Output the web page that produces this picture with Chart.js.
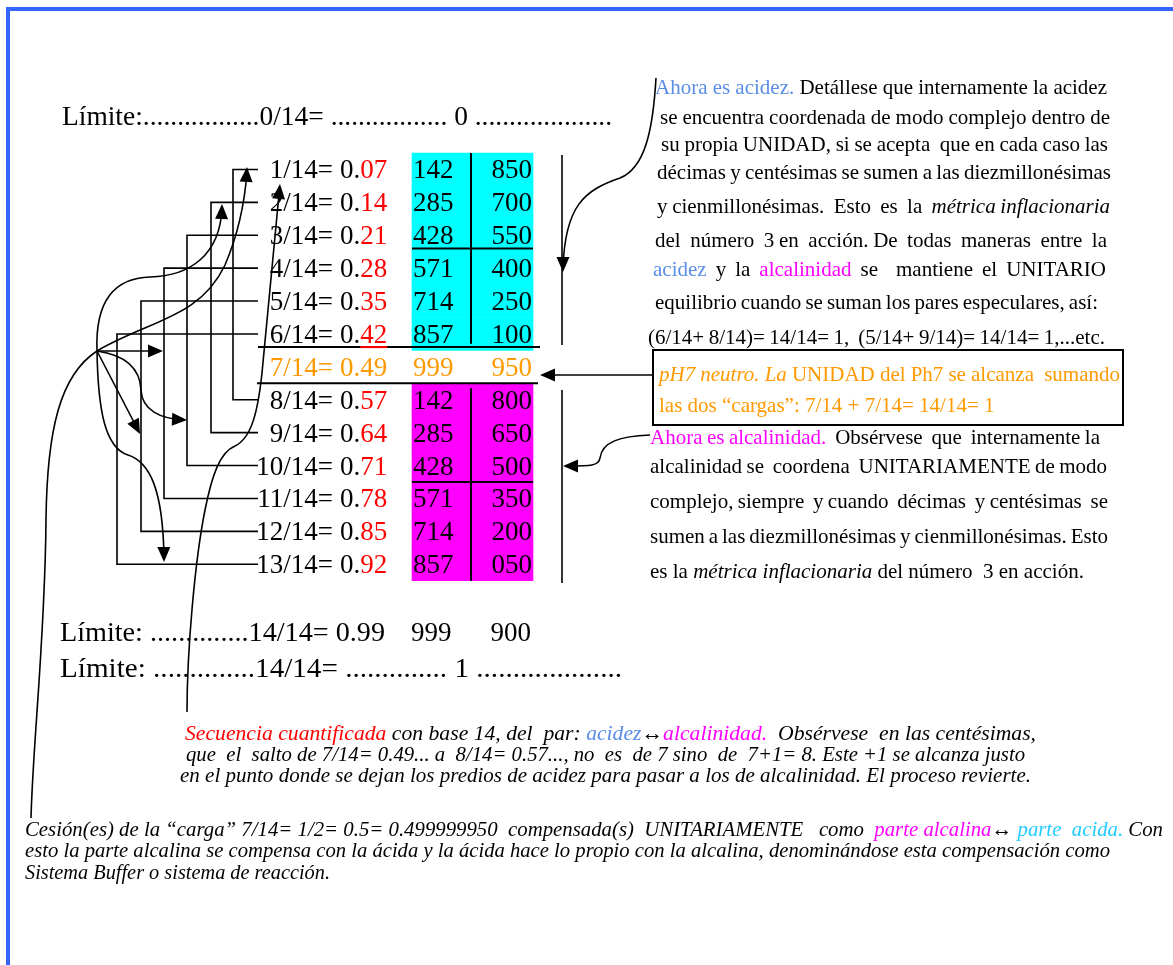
<!DOCTYPE html>
<html><head><meta charset="utf-8">
<script src="https://cdn.jsdelivr.net/npm/chart.js@4/dist/chart.umd.min.js"></script>
<style>html,body{margin:0;padding:0;background:#fff;overflow:hidden}canvas{display:block}</style>
</head><body>
<canvas id="c" width="1173" height="965"></canvas>
<script>
// ---------------- data ----------------
const fractions  = ['1/14','2/14','3/14','4/14','5/14','6/14','7/14','8/14','9/14','10/14','11/14','12/14','13/14'];
const hundredths = ['07','14','21','28','35','42','49','57','64','71','78','85','92'];
const groupA     = ['142','285','428','571','714','857','999','142','285','428','571','714','857'];
const groupB     = ['850','700','550','400','250','100','950','800','650','500','350','200','050'];
const zones      = ['acidez','acidez','acidez','acidez','acidez','acidez','neutro',
                    'alcalinidad','alcalinidad','alcalinidad','alcalinidad','alcalinidad','alcalinidad'];
const mirrorPairs = [[1,8],[2,9],[3,10],[4,11],[5,12],[6,13]];
const limitTop    = ['0/14', '0'];
const limitLow    = ['14/14', '0.99', '999', '900'];
const limitEnd    = ['14/14', '1'];

// ---------------- style / layout ----------------
const W = 1173, H = 965;
const SERIF = "'Liberation Serif','Times New Roman',serif";
const COL = {acidez:'#00ffff', alcalinidad:'#ff00ff', red:'#ff0000', orange:'#ff9900',
             blue:'#5b8ee6', mag:'#ff00ff', cyanTxt:'#22ccff', frame:'#3366ff'};
const CELL = {left:412, right:533, mid:471};

const diagram = {
  id:'diagram',
  beforeDraw(chart){
    const c = chart.ctx; c.save(); c.fillStyle = '#fff'; c.fillRect(0,0,W,H); c.restore();
  },
  afterDatasetsDraw(chart){
    const c = chart.ctx;
    const sx = chart.scales.x, sy = chart.scales.y, sp = chart.scales.yp;
    const X = v => sx.getPixelForValue(v);
    const P = v => sp.getPixelForValue(v);
    const R = v => sy.getPixelForValue(v);

    function rich(segs, x0, x1, base, size, mode){
      const font = s => (s.i ? 'italic ' : '') + size + 'px ' + SERIF;
      const words = []; let cur = null, pending = 0;
      for (const s of segs){
        for (const p of s.t.split(/( +)/)){
          if (!p) continue;
          if (/^ +$/.test(p)){ pending += p.length; cur = null; continue; }
          if (!cur){ cur = {pieces:[], gap: words.length ? pending : 0}; words.push(cur); pending = 0; }
          cur.pieces.push({t:p, s});
        }
      }
      c.font = size + 'px ' + SERIF;
      const spW = c.measureText(' ').width;
      let ww = 0, units = 0;
      for (const w of words){
        w.w = 0;
        for (const pc of w.pieces){ c.font = font(pc.s); pc.w = c.measureText(pc.t).width; w.w += pc.w; }
        ww += w.w; units += w.gap;
      }
      const natural = ww + units*spW;
      let gap = spW, scale = 1;
      const x0p = X(x0), x1p = x1 != null ? X(x1) : null;
      if (mode === 'justify'){
        gap = units ? (x1p - x0p - ww)/units : spW;
        if (gap < spW*0.45){ gap = spW; scale = (x1p - x0p)/natural; }
      } else if (mode === 'fit'){ scale = (x1p - x0p)/natural; }
      c.save(); c.translate(x0p, P(base)); c.scale(scale,1);
      c.textBaseline = 'alphabetic'; c.textAlign = 'left';
      let x = 0;
      for (const w of words){
        x += w.gap*gap;
        for (const pc of w.pieces){ c.font = font(pc.s); c.fillStyle = pc.s.c || '#000'; c.fillText(pc.t, x, 0); x += pc.w; }
      }
      c.restore();
    }
    function path(cmds){
      c.beginPath();
      for (const k of cmds){
        if (k[0]==='M') c.moveTo(X(k[1]),P(k[2]));
        else if (k[0]==='L') c.lineTo(X(k[1]),P(k[2]));
        else c.bezierCurveTo(X(k[1]),P(k[2]),X(k[3]),P(k[4]),X(k[5]),P(k[6]));
      }
      c.stroke();
    }
    function head(tx, ty, fx, fy){
      const a = Math.atan2(P(ty)-P(fy), X(tx)-X(fx));
      const L = 15, hw = 6.5, x = X(tx), y = P(ty);
      c.beginPath();
      c.moveTo(x,y);
      c.lineTo(x - L*Math.cos(a) + hw*Math.sin(a), y - L*Math.sin(a) - hw*Math.cos(a));
      c.lineTo(x - L*Math.cos(a) - hw*Math.sin(a), y - L*Math.sin(a) + hw*Math.cos(a));
      c.closePath(); c.fill();
    }

    // ---- cell dividers ----
    c.save();
    c.strokeStyle = '#000'; c.lineWidth = 2;
    c.beginPath();
    c.moveTo(X(CELL.mid), R(0.5)); c.lineTo(X(CELL.mid), R(6.3));
    c.moveTo(X(CELL.left), R(3.4)); c.lineTo(X(CELL.right), R(3.4));
    c.moveTo(X(CELL.mid), R(7.65)); c.lineTo(X(CELL.mid), R(13.5));
    c.moveTo(X(CELL.left), R(10.5)); c.lineTo(X(CELL.right), R(10.5));
    c.stroke();

    // ---- neutral row borders ----
    c.lineWidth = 2;
    c.beginPath();
    c.moveTo(X(258), R(6.4)); c.lineTo(X(540), R(6.4));
    c.moveTo(X(257), R(7.5)); c.lineTo(X(538), R(7.5));
    c.stroke();

    // ---- rows text ----
    const fs = 27;
    c.textBaseline = 'alphabetic';
    fractions.forEach((f, i) => {
      const yb = R(i+1) + 9;
      const neutral = zones[i] === 'neutro';
      c.font = fs + 'px ' + SERIF;
      c.fillStyle = neutral ? COL.orange : '#000';
      c.textAlign = 'right'; c.fillText(f + '=', X(333), yb);
      c.textAlign = 'left';
      c.fillText('0.', X(340), yb);
      const wx = X(340) + c.measureText('0.').width;
      c.fillStyle = neutral ? COL.orange : COL.red;
      c.fillText(hundredths[i], wx, yb);
      if (i === 5){
        const w = c.measureText(hundredths[i]).width;
        c.save(); c.strokeStyle = COL.red; c.lineWidth = 2;
        c.beginPath(); c.moveTo(wx, R(6.4)); c.lineTo(wx + w, R(6.4)); c.stroke(); c.restore();
      }
      c.fillStyle = neutral ? COL.orange : '#000';
      c.fillText(groupA[i], X(CELL.left + 1), yb);
      c.textAlign = 'right'; c.fillText(groupB[i], X(CELL.right - 1), yb);
    });

    // ---- mirror pair brackets ----
    const bx = [233, 211, 187, 164, 141, 117];
    c.strokeStyle = '#000'; c.lineWidth = 1.6;
    mirrorPairs.forEach(([a, b], k) => {
      c.beginPath();
      c.moveTo(X(258), R(a)); c.lineTo(X(bx[k]), R(a)); c.lineTo(X(bx[k]), R(b)); c.lineTo(X(258), R(b));
      c.stroke();
    });

    // ---- curved arrows (left) ----
    c.lineWidth = 1.6; c.fillStyle = '#000';
    path([['M',97,351],['L',160,351]]); head(163,351,97,351);
    path([['M',97,351],['L',138,430]]); head(140,434,97,351);
    path([['M',97,351],['C',125,355,140,368,141,390],['C',142,410,160,419,185,420]]); head(187,420,165,419);
    path([['M',97,351],['C',98,410,105,448,128,455],['C',150,462,163,490,164,558]]); head(164,562,163.5,520);
    path([['M',97,351],['C',95,300,115,278,150,277],['C',190,276,220,255,222,208]]); head(222,204,221,240);
    path([['M',97,351],['C',150,320,200,318,225,265],['C',240,230,245,200,247,171]]); head(247,167,245,200);
    path([['M',97,351],['C',60,375,47,430,46,520],['C',45,640,33,740,31,818]]);
    path([['M',187,712],['C',187,650,195,560,205,510],['C',212,475,220,452,235,446],['C',252,438,258,410,262,373],['L',279.6,188]]);
    head(280,184,262,373);

    // ---- right side arrows ----
    path([['M',562,155],['L',562,345]]);
    path([['M',562,390],['L',562,583]]);
    path([['M',656,78],['C',653,130,645,168,620,178],['C',585,190,565,205,563,268]]); head(563,272,563,240);
    path([['M',650,435],['C',620,436,602,442,600,458],['C',599,466,590,466,568,466]]); head(563,466,590,466);
    path([['M',653,375],['L',544,375]]); head(540,375,653,375);

    // ---- pH7 box ----
    c.lineWidth = 2;
    c.strokeRect(X(653), P(350), X(1123)-X(653), P(425)-P(350));

    // ---- limit lines ----
    rich([{t:'Límite:.................' + limitTop[0] + '= ................. ' + limitTop[1] + ' ....................'}], 62, 612, 125, 27, 'fit');
    rich([{t:'Límite: ..............' + limitLow[0] + '= ' + limitLow[1]}], 60, 385, 641, 27, 'fit');
    c.font = '27px ' + SERIF; c.fillStyle = '#000'; c.textAlign = 'left';
    c.fillText(limitLow[2], X(CELL.left - 1), P(641));
    c.textAlign = 'right'; c.fillText(limitLow[3], X(CELL.right - 2), P(641));
    rich([{t:'Límite: ..............' + limitEnd[0] + '= .............. ' + limitEnd[1] + ' ....................'}], 60, 622, 677, 27, 'fit');

    // ---- right text block (acidez) ----
    const s = 21;
    rich([{t:'Ahora es acidez.', c:COL.blue},{t:' Detállese que internamente la acidez'}], 655, 1107, 94, s, 'justify');
    rich([{t:'se encuentra coordenada de modo complejo dentro de'}], 660, 1110, 124, s, 'justify');
    rich([{t:'su propia UNIDAD, si se acepta  que en cada caso las'}], 661, 1108, 151, s, 'justify');
    rich([{t:'décimas y centésimas se sumen a las diezmillonésimas'}], 657, 1111, 179, s, 'justify');
    rich([{t:'y cienmillonésimas.  Esto  es  la  '},{t:'métrica inflacionaria', i:true}], 657, 1110, 213, s, 'justify');
    rich([{t:'del  número  3 en  acción. De  todas  maneras  entre  la'}], 655, 1107, 247, s, 'justify');
    rich([{t:'acidez', c:COL.blue},{t:' y la '},{t:'alcalinidad', c:COL.mag},{t:' se  mantiene el UNITARIO'}], 653, 1106, 276, s, 'justify');
    rich([{t:'equilibrio cuando se suman los pares especulares, así:'}], 655, 1098, 309, s, 'justify');
    rich([{t:'(6/14+ 8/14)= 14/14= 1,  (5/14+ 9/14)= 14/14= 1,...etc.'}], 648, 1105, 344, s, 'justify');

    // ---- pH7 box text ----
    rich([{t:'pH7 neutro. La', c:COL.orange, i:true},{t:' UNIDAD del Ph7 se alcanza  sumando', c:COL.orange}], 659, 1120, 381, s, 'justify');
    rich([{t:'las dos “cargas”: 7/14 + 7/14= 14/14= 1', c:COL.orange}], 659, null, 412, s, 'left');

    // ---- right text block (alcalinidad) ----
    rich([{t:'Ahora es alcalinidad.', c:COL.mag},{t:'  Obsérvese  que  internamente la'}], 650, 1100, 444, s, 'justify');
    rich([{t:'alcalinidad se  coordena  UNITARIAMENTE de modo'}], 650, 1107, 473, s, 'justify');
    rich([{t:'complejo, siempre  y cuando  décimas  y centésimas  se'}], 650, 1108, 508, s, 'justify');
    rich([{t:'sumen a las diezmillonésimas y cienmillonésimas. Esto'}], 650, 1108, 543, s, 'justify');
    rich([{t:'es la '},{t:'métrica inflacionaria', i:true},{t:' del número  3 en acción.'}], 650, null, 578, s, 'left');

    // ---- italic notes ----
    const it = 21;
    rich([{t:'Secuencia cuantificada', c:COL.red, i:true},{t:' con base 14, del  par: ', i:true},{t:'acidez', c:COL.blue, i:true},
          {t:'↔', i:false},{t:'alcalinidad.', c:COL.mag, i:true},{t:'  Obsérvese  en las centésimas,', i:true}], 185, 1036, 740, it, 'fit');
    rich([{t:'que  el  salto de 7/14= 0.49... a  8/14= 0.57..., no  es  de 7 sino  de  7+1= 8. Este +1 se alcanza justo', i:true}], 186, 1025, 761, it, 'fit');
    rich([{t:'en el punto donde se dejan los predios de acidez para pasar a los de alcalinidad. El proceso revierte.', i:true}], 180, 1031, 782, it, 'fit');

    rich([{t:'Cesión(es) de la “carga” 7/14= 1/2= 0.5= 0.499999950  compensada(s)  UNITARIAMENTE   como  ', i:true},
          {t:'parte alcalina', c:COL.mag, i:true},{t:'↔', i:false},{t:' parte  acida.', c:COL.cyanTxt, i:true},{t:' Con', i:true}], 25, 1163, 836, it, 'fit');
    rich([{t:'esto la parte alcalina se compensa con la ácida y la ácida hace lo propio con la alcalina, denominándose esta compensación como', i:true}], 25, 1110, 857, it, 'fit');
    rich([{t:'Sistema Buffer o sistema de reacción.', i:true}], 25, 330, 879, it, 'fit');

    // ---- frame ----
    c.strokeStyle = COL.frame; c.lineWidth = 4;
    c.beginPath(); c.moveTo(X(6), P(9)); c.lineTo(X(W), P(9)); c.moveTo(X(8), P(7)); c.lineTo(X(8), P(H)); c.stroke();
    c.restore();
  }
};

const rowMin = -4.1505, rowMax = rowMin + H/32.9;
new Chart(document.getElementById('c'), {
  type: 'bar',
  data: {
    datasets: [{
      data: fractions.map((f, i) => zones[i] === 'neutro' ? null : {y: i + 1, x: [CELL.left, CELL.right]}).filter(Boolean),
      backgroundColor: ctx => COL[zones[(ctx.raw ? ctx.raw.y : 1) - 1]] || '#fff',
      borderWidth: 0, barPercentage: 1, categoryPercentage: 1,
      xAxisID: 'x', yAxisID: 'y'
    }]
  },
  options: {
    indexAxis: 'y', responsive: false, maintainAspectRatio: false, animation: false, devicePixelRatio: 1,
    layout: {padding: 0, autoPadding: false},
    plugins: {legend: {display: false}, tooltip: {enabled: false}, title: {display: false}},
    scales: {
      x:  {type: 'linear', min: 0, max: W, display: false, offset: false, grid: {offset: false}},
      y:  {type: 'linear', min: rowMin, max: rowMax, reverse: true, display: false, offset: false, grid: {offset: false},
           afterBuildTicks: s => { s.ticks = fractions.map((f, i) => ({value: i + 1})); }},
      yp: {type: 'linear', min: 0, max: H, reverse: true, display: false, offset: false, grid: {offset: false}}
    }
  },
  plugins: [diagram]
});
</script>
</body></html>
